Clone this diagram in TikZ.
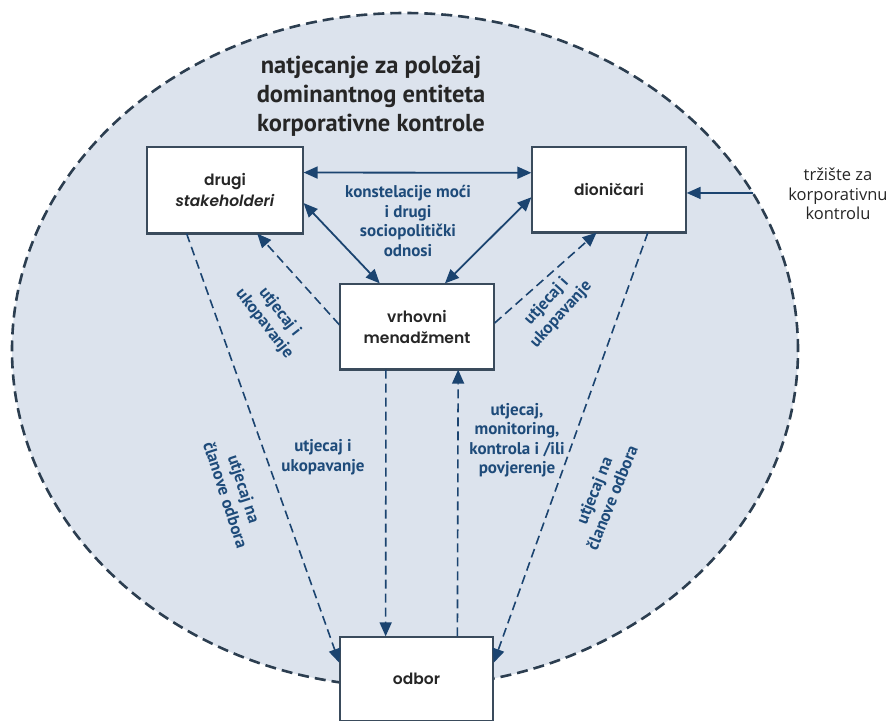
\documentclass[tikz,border=0pt]{standalone}
\usepackage{fontspec}
\setmainfont{PT Sans}
\newfontfamily\boxfont{Poppins}[UprightFont=* Medium, ItalicFont=* Medium Italic, BoldFont=* SemiBold, BoldItalicFont=* SemiBold Italic]
\newfontfamily\mktfont{Open Sans}
\usetikzlibrary{arrows.meta,calc}
\definecolor{fillc}{HTML}{DCE3ED}
\definecolor{ellc}{HTML}{2C3E50}
\definecolor{boxc}{HTML}{3A4B5C}
\definecolor{txtc}{HTML}{262626}
\definecolor{bluec}{HTML}{1E4B7A}
\definecolor{arrc}{HTML}{1B4470}
\begin{document}
\begin{tikzpicture}[x=1pt,y=-1pt,
  box/.style={draw=boxc, line width=1.3pt, fill=white, minimum width=154pt,
    minimum height=85pt, inner sep=0pt, align=center, text=txtc,
    font=\boxfont\bfseries\fontsize{15.5}{21}\selectfont},
  lbl/.style={text=bluec, font=\bfseries\fontsize{17}{19.5}\selectfont,
    align=center, inner sep=0pt},
  tip/.tip={Triangle[length=14pt,width=12pt]},
  arr/.style={draw=arrc, line width=1.8pt},
  darr/.style={draw=arrc, line width=1.6pt, dash pattern=on 9pt off 5pt}
]
\useasboundingbox (0,0) rectangle (893,720);
% ellipse
\draw[fill=fillc, draw=ellc, line width=2.6pt, dash pattern=on 11pt off 6pt]
  (405,350) ellipse [x radius=393pt, y radius=337pt];
\coordinate (mkt) at (753,193);
% title
\node[text=txtc, font=\bfseries\fontsize{24.5}{29}\selectfont, align=center]
  (title) at (371,96) {natjecanje za položaj\\dominantnog entiteta\\korporativne kontrole};
% boxes
\node[box, minimum width=156pt, minimum height=86pt] (drugi) at (225,190)
  {drugi\\\textit{stakeholderi}};
\node[box] (dion) at (609,189.5) {dioničari};
\node[box] (vrh) at (417,326.5) {vrhovni\\menadžment};
\node[box, minimum width=153pt, minimum height=84pt] (odbor) at (416.5,679) {odbor};
\foreach \b in {drugi,dion,vrh}
  \draw[boxc, line width=2.6pt] (\b.south west) -- (\b.south east);
% market text
\node[text=txtc, font=\mktfont\fontsize{16.5}{19.5}\selectfont, align=center] (market)
  at (838,194) {tržište za\\korporativnu\\kontrolu};
% solid arrows
\draw[arr, tip-tip] ($(drugi.north east)!0.3!(drugi.south east)$)
  -- ($(dion.north west)!0.306!(dion.south west)$);
\draw[arr, tip-tip] ($(drugi.north east)!0.65!(drugi.south east)$)
  -- ($(vrh.north west)!0.26!(vrh.north east)$);
\draw[arr, tip-tip] ($(dion.north west)!0.59!(dion.south west)$)
  -- ($(vrh.north west)!0.68!(vrh.north east)$);
\draw[arr, -tip] (mkt) -- ($(dion.north east)!0.54!(dion.south east)$);
% dashed arrows
\draw[darr, -tip] ($(vrh.north west)!0.48!(vrh.south west)$)
  -- ($(drugi.south west)!0.705!(drugi.south east)$);
\draw[darr, -tip] ($(vrh.north east)!0.46!(vrh.south east)$)
  -- ($(dion.south west)!0.42!(dion.south east)$);
\draw[darr, -tip] ($(drugi.south west)!0.256!(drugi.south east)$)
  -- ($(odbor.north west)!0.31!(odbor.south west)$);
\draw[darr, -tip] ($(dion.south west)!0.75!(dion.south east)$)
  -- ($(odbor.north east)!0.31!(odbor.south east)$);
\draw[darr, -tip] ($(vrh.south west)!0.3!(vrh.south east)$)
  -- ($(odbor.north west)!0.3!(odbor.north east)$);
\draw[darr, -tip] ($(odbor.north west)!0.765!(odbor.north east)$)
  -- ($(vrh.south west)!0.765!(vrh.south east)$);
% labels
\node[lbl] (l1) at (408,221) {konstelacije moći\\i drugi\\sociopolitički\\odnosi};
\node[lbl, rotate=-52] (l2) at (272,318) {utjecaj i\\ukopavanje};
\node[lbl, rotate=48] (l3) at (554,308) {utjecaj i\\ukopavanje};
\node[lbl] (l4) at (323,457) {utjecaj i\\ukopavanje};
\node[lbl] (l5) at (517,440) {utjecaj,\\monitoring,\\kontrola i /ili\\povjerenje};
\node[lbl, rotate=-72] (l6) at (235,492) {utjecaj na\\članove odbora};
\node[lbl, rotate=68] (l7) at (603,494) {utjecaj na\\članove odbora};
\end{tikzpicture}
\end{document}
